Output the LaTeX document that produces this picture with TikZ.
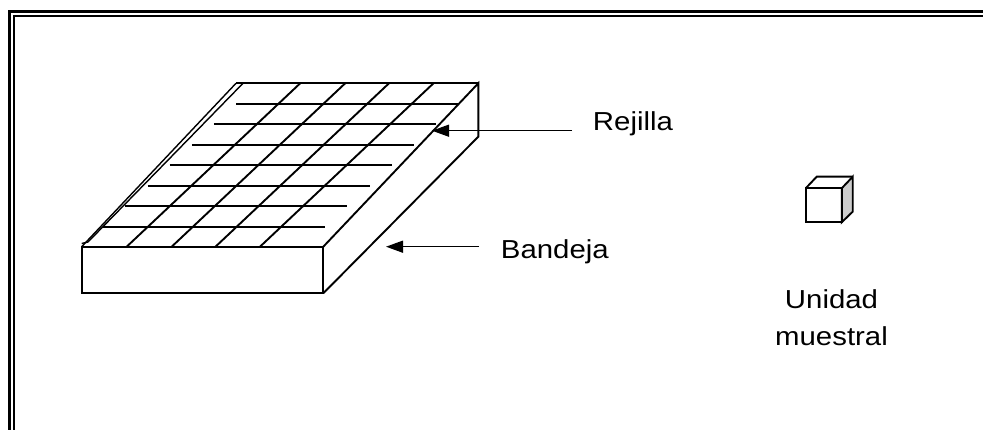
\documentclass[tikz,border=0pt]{standalone}
\usepackage{fontspec}
\setmainfont[FakeStretch=1.13]{Liberation Sans}
\usetikzlibrary{arrows.meta}
\tikzset{
  lbl/.style={inner sep=0pt, font=\fontsize{26}{36.7}\selectfont},
  pointer/.style={-{Triangle[length=17pt,width=12pt]}, line width=1.4pt},
}
\begin{document}
\begin{tikzpicture}[x=1pt,y=-1pt,line width=1.9pt]
  \useasboundingbox (0,0) rectangle (983,430);
  % frame
  \draw[line width=2.5pt] (9.5,430) -- (9.5,11.3) -- (983,11.3);
  \draw (14,430) -- (14,16.2) -- (983,16.2);
  % tray
  \draw (81.7,246.7) rectangle (323.3,293.3);
  \draw (323.3,246.7) -- (478.3,83.3) -- (478.3,136.7) -- (323.3,293.3);
  \draw (236,83.3) -- (478.3,83.3);
  \draw[line width=1.4pt] (81.7,246.7) -- (236,83.3);
  \draw[line width=1.4pt] (81.7,243.5) -- (88,242) -- (243,83.3);
  % grid
  \foreach \i in {0,...,6}
    \draw (236-22.12*\i,104+20.45*\i) -- ++(222,0);
  \foreach \f in {126.7,171.7,215.5,260}
    \draw (\f,246.7) -- (\f+173.5,83.3);
  % cube
  \draw[fill=gray!40] (841.7,188.3) -- (852.7,176.7) -- (852.7,211.7) -- (841.7,222.3) -- cycle;
  \draw (805.7,188.3) -- (816.7,176.7) -- (852.7,176.7);
  \draw (805.7,188.3) rectangle (841.7,222.3);
  % labels
  \node[lbl, inner xsep=20pt, anchor=base west] (rej) at (572,130.7) {Rejilla};
  \node[lbl, inner xsep=21pt, anchor=base west] (band) at (479,258.3) {Bandeja};
  \node[lbl, align=center, anchor=base] (unidad) at (831.5,345) {Unidad\\muestral};
  \coordinate (rejTip) at (432,130.7);
  \coordinate (bandTip) at (386,246.7);
  \draw[pointer] (rej.west |- rejTip) -- (rejTip);
  \draw[pointer] (band.west |- bandTip) -- (bandTip);
\end{tikzpicture}
\end{document}
